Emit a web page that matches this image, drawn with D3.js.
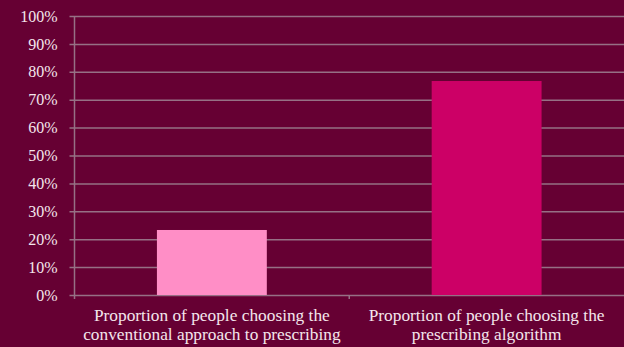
<!DOCTYPE html>
<html>
<head>
<meta charset="utf-8">
<script src="https://cdn.jsdelivr.net/npm/d3@7"></script>
<style>
  html, body { margin: 0; padding: 0; background: #660033; }
  svg { display: block; }
  svg text { font-family: "Liberation Serif", "Times New Roman", "DejaVu Serif", serif; }
</style>
</head>
<body>
<svg id="chart" width="624" height="347"></svg>
<script>
var width = 624;
var height = 347;

// DATA
var categories = [
    ["Proportion of people choosing the", "conventional approach to prescribing"],
    ["Proportion of people choosing the", "prescribing algorithm"]
];
var values = [0.233, 0.767];
var barColors = ["#ff8ec6", "#cc0066"];
var yTicks = [0, 0.1, 0.2, 0.3, 0.4, 0.5, 0.6, 0.7, 0.8, 0.9, 1.0];

var margin = { top: 16, right: 0, bottom: 52, left: 74.5 };
var fontFam = "'Liberation Serif', 'Times New Roman', serif";

const svg = d3.select("#chart");

svg.append("rect")
    .attr("width", width)
    .attr("height", height)
    .attr("fill", "#660033");

// SCALES
var x = d3.scaleBand()
    .domain(d3.range(categories.length))
    .range([margin.left, width - margin.right])
    .paddingInner(0.6)
    .paddingOuter(0.3);

var y = d3.scaleLinear()
    .domain([0, 1])
    .range([height - margin.bottom, margin.top]);

var textColor = "#f4e6ec";
var lineColor = "#967085";

// gridlines + y labels
var yAxis = svg.append("g")
    .attr("transform", "translate(" + margin.left + ",0)")
    .call(d3.axisLeft(y)
        .tickValues(yTicks)
        .tickSize(-(width - margin.left))
        .tickFormat(d3.format(".0%")));

yAxis.attr("font-family", fontFam).attr("font-size", 16);
yAxis.select(".domain").remove();
yAxis.selectAll(".tick line")
    .attr("stroke", lineColor)
    .attr("stroke-width", 1.5)
    .attr("x1", -5);
yAxis.selectAll(".tick text")
    .attr("x", -17)
    .attr("fill", textColor);

// bars
svg.append("g")
    .selectAll("rect")
    .data(values)
    .join("rect")
    .attr("x", (d, i) => x(i))
    .attr("width", x.bandwidth())
    .attr("y", d => y(d))
    .attr("height", d => y(0) - y(d))
    .attr("fill", (d, i) => barColors[i]);

// y axis line
svg.append("line")
    .attr("x1", margin.left).attr("x2", margin.left)
    .attr("y1", y(1)).attr("y2", y(0) + 4)
    .attr("stroke", lineColor)
    .attr("stroke-width", 1.5);

// category ticks between bands
var step = x.step();
svg.append("g")
    .selectAll("line")
    .data(d3.range(1, categories.length))
    .join("line")
    .attr("x1", (d) => margin.left + d * step)
    .attr("x2", (d) => margin.left + d * step)
    .attr("y1", y(0))
    .attr("y2", y(0) + 4)
    .attr("stroke", lineColor)
    .attr("stroke-width", 1.5);

// category labels
var labels = svg.append("g")
    .attr("font-family", fontFam)
    .attr("font-size", 17.33)
    .selectAll("text")
    .data(categories)
    .join("text")
    .attr("x", (d, i) => x(i) + x.bandwidth() / 2)
    .attr("y", y(0) + 26)
    .attr("text-anchor", "middle")
    .attr("fill", textColor);

labels.selectAll("tspan")
    .data(d => d)
    .join("tspan")
    .attr("x", function () { return d3.select(this.parentNode).attr("x"); })
    .attr("dy", (d, i) => i === 0 ? 0 : 18.5)
    .text(d => d);
</script>
</body>
</html>
